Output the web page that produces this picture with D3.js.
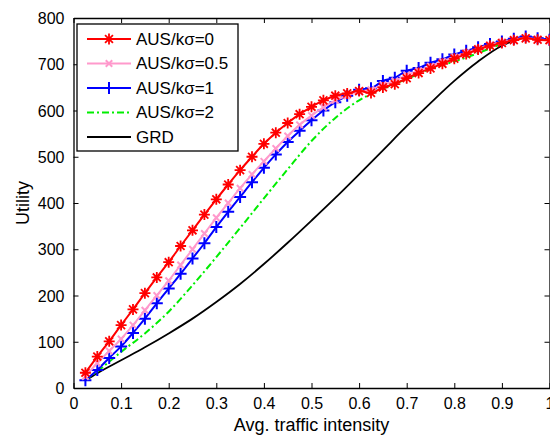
<!DOCTYPE html>
<html>
<head>
<meta charset="utf-8">
<script src="https://cdn.jsdelivr.net/npm/d3@7"></script>
<style>
  body { margin: 0; background: #fff; }
  svg text { font-family: "Liberation Sans", Arial, Helvetica, sans-serif; fill: #000; }
</style>
</head>
<body>
<div id="chart"></div>
<script>
// x positions of the marked series (avg. traffic intensity)
var xVals = [0.025,0.05,0.075,0.1,0.125,0.15,0.175,0.2,0.225,0.25,
  0.275,0.3,0.325,0.35,0.375,0.4,0.425,0.45,0.475,0.5,
  0.525,0.55,0.575,0.6,0.625,0.65,0.675,0.7,0.725,0.75,
  0.775,0.8,0.825,0.85,0.875,0.9,0.925,0.95,0.975,1.0];

var aus0 = [33,68,101,136,170,205,239,272,307,341,
  375,408,440,471,500,528,552,573,592,608,
  622,632,637,642,638,650,657,670,681,691,
  701,712,722,732,740,746,752,756,753,752];

var aus05 = [25,54,80,106,136,168,200,232,266,300,
  334,368,400,432,462,490,518,545,569,589,
  607,622,632,641,645,656,664,677,686,696,
  706,716,725,734,742,748,753,757,754,752];

var aus1 = [17,39,65,90,119,150,183,215,247,280,
  313,348,381,413,445,476,505,532,556,579,
  600,618,632,645,648,664,671,686,692,703,
  711,721,729,737,744,749,755,760,756,753];

// unmarked series sampled more coarsely
var xCoarse = [0.025,0.05,0.1,0.15,0.2,0.25,0.3,0.35,0.4,0.45,0.5,
  0.55,0.6,0.65,0.7,0.75,0.8,0.85,0.9,0.95,1.0];
var aus2 = [17,36,78,118,165,222,283,346,410,473,534,
  584,622,647,668,690,706,724,744,757,752];
var grd = [16,32,60,88,118,150,186,225,268,314,362,
  411,462,514,566,616,664,706,740,757,754];

var xTicks = [0,0.1,0.2,0.3,0.4,0.5,0.6,0.7,0.8,0.9,1];
var yTicks = [0,100,200,300,400,500,600,700,800];

var W = 550, H = 439;
var margin = {top: 18, right: 0.5, bottom: 51, left: 73.5};
var width = W - margin.left - margin.right,
    height = H - margin.top - margin.bottom;

var svg = d3.select("#chart").append("svg")
  .attr("width", W).attr("height", H);
var g = svg.append("g")
  .attr("transform", "translate(" + margin.left + "," + margin.top + ")");

var x = d3.scaleLinear().domain([0, 1]).range([0, width]);
var y = d3.scaleLinear().domain([0, 800]).range([height, 0]);

// axes, MATLAB style: ticks inside, on all four sides
var xAxis = d3.axisBottom(x).tickValues(xTicks).tickSizeInner(-5).tickSizeOuter(0)
  .tickPadding(10).tickFormat(function(d){ return (d === 0 || d === 1) ? String(d) : d3.format(".1f")(d); });
var yAxis = d3.axisLeft(y).tickValues(yTicks).tickSizeInner(-5).tickSizeOuter(0)
  .tickPadding(9).tickFormat(d3.format("d"));

var gx = g.append("g").attr("transform", "translate(0," + height + ")").call(xAxis);
var gy = g.append("g").call(yAxis);
g.append("g").call(d3.axisTop(x).tickValues(xTicks).tickSizeInner(-5).tickSizeOuter(0).tickFormat(""));
g.append("g").attr("transform", "translate(" + width + ",0)")
  .call(d3.axisRight(y).tickValues(yTicks).tickSizeInner(-5).tickSizeOuter(0).tickFormat(""));

g.selectAll(".domain").attr("stroke", "#000").attr("stroke-width", 1.3);
g.selectAll(".tick line").attr("stroke", "#000").attr("stroke-width", 1);
gx.selectAll("text").style("font-size", "16px");
gy.selectAll("text").style("font-size", "16px").attr("dy", "0.35em");

svg.append("text")
  .attr("x", margin.left + width / 2).attr("y", 431)
  .attr("text-anchor", "middle").style("font-size", "18px")
  .text("Avg. traffic intensity");
svg.append("text")
  .attr("transform", "translate(29," + (margin.top + height / 2) + ") rotate(-90)")
  .attr("text-anchor", "middle").style("font-size", "18px")
  .text("Utility");

var series = [
  {name: "AUS/k\u03c3=0", xs: xVals, ys: aus0, color: "#ff0000", marker: "star", dash: null},
  {name: "AUS/k\u03c3=0.5", xs: xVals, ys: aus05, color: "#ff99cc", marker: "x", dash: null},
  {name: "AUS/k\u03c3=1", xs: xVals, ys: aus1, color: "#0000ff", marker: "plus", dash: null},
  {name: "AUS/k\u03c3=2", xs: xCoarse, ys: aus2, color: "#00ee00", marker: null, dash: "7,3,2,3"},
  {name: "GRD", xs: xCoarse, ys: grd, color: "#000000", marker: null, dash: null}
];

var markerSize = {star: 5.5, x: 4.5, plus: 6};

function markerPath(type, s) {
  var d = "";
  if (type === "plus" || type === "star") d += "M" + (-s) + ",0L" + s + ",0M0," + (-s) + "L0," + s;
  if (type === "x" || type === "star") {
    var t = s * 0.72;
    d += "M" + (-t) + "," + (-t) + "L" + t + "," + t + "M" + (-t) + "," + t + "L" + t + "," + (-t);
  }
  return d;
}

var line = d3.line().curve(d3.curveMonotoneX)
  .x(function(d){ return x(d[0]); }).y(function(d){ return y(d[1]); });

var plot = g.append("g");
series.slice().reverse().forEach(function(s) {
  var pts = s.xs.map(function(v, i){ return [v, s.ys[i]]; });
  plot.append("path").datum(pts)
    .attr("fill", "none").attr("stroke", s.color)
    .attr("stroke-width", s.color === "#000000" ? 1.8 : 2)
    .attr("stroke-dasharray", s.dash)
    .attr("d", line);
  if (s.marker) {
    plot.selectAll(null).data(pts).enter().append("path")
      .attr("transform", function(d){ return "translate(" + x(d[0]) + "," + y(d[1]) + ")"; })
      .attr("d", markerPath(s.marker, markerSize[s.marker]))
      .attr("stroke", s.color).attr("stroke-width", s.marker === "star" ? 1.8 : 2)
      .attr("fill", "none");
  }
});

// legend
var lg = svg.append("g").attr("transform", "translate(77,24)");
lg.append("rect").attr("width", 161).attr("height", 127)
  .attr("fill", "#fff").attr("stroke", "#000").attr("stroke-width", 1.3);
series.forEach(function(s, i) {
  var ly = 15 + i * 24.5;
  lg.append("line").attr("x1", 10).attr("x2", 54).attr("y1", ly).attr("y2", ly)
    .attr("stroke", s.color).attr("stroke-width", 2).attr("stroke-dasharray", s.dash);
  if (s.marker) {
    lg.append("path").attr("transform", "translate(32," + ly + ")")
      .attr("d", markerPath(s.marker, markerSize[s.marker]))
      .attr("stroke", s.color).attr("stroke-width", s.marker === "star" ? 1.8 : 2).attr("fill", "none");
  }
  lg.append("text").attr("x", 59).attr("y", ly).attr("dy", "0.35em")
    .style("font-size", "17px").text(s.name);
});
</script>
</body>
</html>
